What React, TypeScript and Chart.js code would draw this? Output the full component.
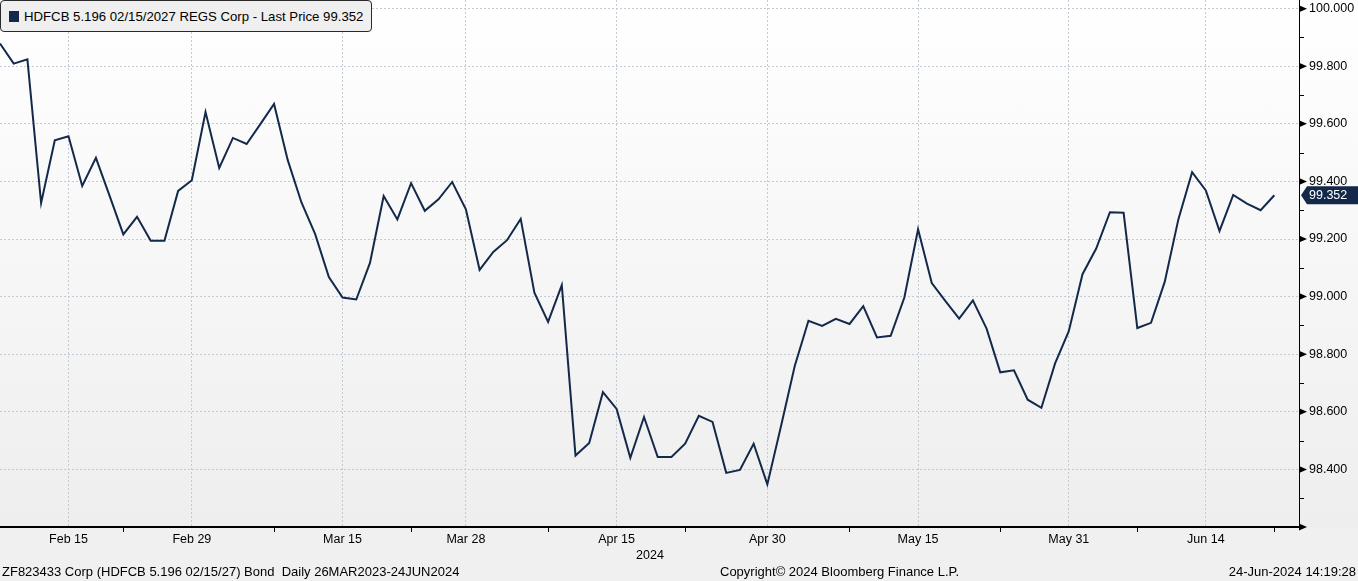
import React, { useEffect, useRef } from 'react';
import { Chart, registerables } from 'chart.js';

Chart.register(...registerables);

// ---- data ----
const dates: string[] = [
  'Feb 8', 'Feb 9', 'Feb 12', 'Feb 13', 'Feb 14', 'Feb 15', 'Feb 16', 'Feb 20', 'Feb 21', 'Feb 22',
  'Feb 23', 'Feb 26', 'Feb 27', 'Feb 28', 'Feb 29', 'Mar 1', 'Mar 4', 'Mar 5', 'Mar 6', 'Mar 7',
  'Mar 8', 'Mar 11', 'Mar 12', 'Mar 13', 'Mar 14', 'Mar 15', 'Mar 18', 'Mar 19', 'Mar 20', 'Mar 21',
  'Mar 22', 'Mar 25', 'Mar 26', 'Mar 27', 'Mar 28', 'Apr 1', 'Apr 2', 'Apr 3', 'Apr 4', 'Apr 5',
  'Apr 8', 'Apr 9', 'Apr 10', 'Apr 11', 'Apr 12', 'Apr 15', 'Apr 16', 'Apr 17', 'Apr 18', 'Apr 19',
  'Apr 22', 'Apr 23', 'Apr 24', 'Apr 25', 'Apr 26', 'Apr 29', 'Apr 30', 'May 1', 'May 2', 'May 3',
  'May 6', 'May 7', 'May 8', 'May 9', 'May 10', 'May 13', 'May 14', 'May 15', 'May 16', 'May 17',
  'May 20', 'May 21', 'May 22', 'May 23', 'May 24', 'May 28', 'May 29', 'May 30', 'May 31', 'Jun 3',
  'Jun 4', 'Jun 5', 'Jun 6', 'Jun 7', 'Jun 10', 'Jun 11', 'Jun 12', 'Jun 13', 'Jun 14', 'Jun 17',
  'Jun 18', 'Jun 20', 'Jun 21', 'Jun 24',
];

const prices: number[] = [
  99.879, 99.809, 99.824, 99.325, 99.543, 99.557, 99.384, 99.482, 99.350, 99.216,
  99.277, 99.194, 99.194, 99.367, 99.404, 99.641, 99.447, 99.551, 99.530, 99.599,
  99.669, 99.474, 99.327, 99.217, 99.068, 98.997, 98.990, 99.117, 99.349, 99.268,
  99.394, 99.298, 99.338, 99.398, 99.303, 99.093, 99.155, 99.196, 99.270, 99.014,
  98.912, 99.040, 98.448, 98.492, 98.668, 98.610, 98.440, 98.582, 98.443, 98.443,
  98.489, 98.586, 98.565, 98.388, 98.398, 98.489, 98.348, 98.551, 98.759, 98.916,
  98.898, 98.923, 98.905, 98.967, 98.858, 98.864, 98.997, 99.234, 99.047, 98.984,
  98.924, 98.987, 98.889, 98.737, 98.744, 98.642, 98.614, 98.768, 98.880, 99.078,
  99.167, 99.293, 99.291, 98.891, 98.909, 99.051, 99.269, 99.432, 99.369, 99.228,
  99.353, 99.323, 99.300, 99.352,
];

const xTickLabels: string[] = ['Feb 15', 'Feb 29', 'Mar 15', 'Mar 28', 'Apr 15', 'Apr 30', 'May 15', 'May 31', 'Jun 14'];
const xMinorTicks: string[] = ['Feb 22', 'Mar 8', 'Mar 22', 'Apr 8', 'Apr 22', 'May 8', 'May 23', 'Jun 7', 'Jun 24'];

const Y_MIN = 98.2;
const Y_MAX = 100.03;
const X_MAX = 94.8;

const seriesName = 'HDFCB 5.196 02/15/2027 REGS Corp';
const yearLabel = '2024';
const footerLeft = 'ZF823433 Corp (HDFCB 5.196 02/15/27) Bond  Daily 26MAR2023-24JUN2024';
const footerCenter = 'Copyright\u00A9 2024 Bloomberg Finance L.P.';
const footerRight = '24-Jun-2024 14:19:28';

// ---- styles ----
const FONT = '"Liberation Sans", Arial, sans-serif';
const NAVY = '#14294a';
const GRID = '#c2cad6';
const W = 1358;
const H = 581;

const lastPrice = prices[prices.length - 1];
const lastPriceText = lastPrice.toFixed(3);

const majorIdx = xTickLabels.map((d) => dates.indexOf(d));
const minorIdx = xMinorTicks.map((d) => dates.indexOf(d));
const labelMap = new Map<number, string>();
xTickLabels.forEach((l, i) => labelMap.set(majorIdx[i], l));

const isMajorY = (v: number) => {
  const k = Math.round(v * 10);
  return k % 2 === 0 && k > 982;
};

const axisMarks = {
  id: 'axisMarks',
  afterDraw(chart: any) {
    const ctx = chart.ctx;
    const ys = chart.scales.y;
    const right = chart.chartArea.right;
    ctx.save();
    ys.ticks.forEach((t: any) => {
      const py = ys.getPixelForValue(t.value);
      const k = Math.round(t.value * 10);
      ctx.fillStyle = '#000';
      ctx.strokeStyle = '#000';
      if (k % 2 === 0) {
        ctx.beginPath();
        ctx.moveTo(right, py - 3.5);
        ctx.lineTo(right + 8, py);
        ctx.lineTo(right, py + 3.5);
        ctx.closePath();
        ctx.fill();
      } else {
        ctx.lineWidth = 1;
        ctx.beginPath();
        ctx.moveTo(right, Math.round(py) + 0.5);
        ctx.lineTo(right + 5, Math.round(py) + 0.5);
        ctx.stroke();
      }
    });
    // last price tag
    const py = ys.getPixelForValue(lastPrice);
    const x0 = right + 2;
    ctx.fillStyle = NAVY;
    ctx.beginPath();
    ctx.moveTo(x0, py);
    ctx.lineTo(x0 + 6, py - 9);
    ctx.lineTo(W, py - 9);
    ctx.lineTo(W, py + 9);
    ctx.lineTo(x0 + 6, py + 9);
    ctx.closePath();
    ctx.fill();
    ctx.fillStyle = '#ffffff';
    ctx.font = `12.5px ${FONT}`;
    ctx.textBaseline = 'middle';
    ctx.textAlign = 'left';
    ctx.fillText(lastPriceText, right + 10, py + 0.5);
    ctx.restore();
  },
};

function ChartCanvas() {
  const ref = useRef<HTMLCanvasElement | null>(null);
  useEffect(() => {
    if (!ref.current) return;
    const chart = new Chart(ref.current, {
      type: 'line',
      data: {
        datasets: [
          {
            label: seriesName,
            data: prices.map((p, i) => ({ x: i, y: p })),
            borderColor: NAVY,
            borderWidth: 2,
            pointRadius: 0,
            tension: 0,
            fill: false,
          },
        ],
      },
      options: {
        animation: false,
        responsive: false,
        maintainAspectRatio: false,
        layout: { padding: 0 },
        plugins: { legend: { display: false }, tooltip: { enabled: false } },
        scales: {
          x: {
            type: 'linear',
            position: 'bottom',
            min: 0,
            max: X_MAX,
            afterBuildTicks: (s: any) => {
              const vals = [...majorIdx, ...minorIdx].sort((a, b) => a - b);
              s.ticks = vals.map((v) => ({ value: v }));
            },
            afterFit: (s: any) => {
              s.height = 54;
              s.paddingLeft = 0;
              s.paddingRight = 0;
            },
            ticks: {
              autoSkip: false,
              maxRotation: 0,
              minRotation: 0,
              padding: 0,
              color: '#000',
              font: { family: FONT, size: 12.5 },
              callback: (v: any) => labelMap.get(v) ?? '',
            },
            grid: {
              color: (c: any) => (c.tick && labelMap.has(c.tick.value) ? GRID : 'rgba(0,0,0,0)'),
              lineWidth: 1,
              drawTicks: true,
              tickLength: 5,
              tickWidth: 1,
              tickColor: (c: any) => (c.tick && labelMap.has(c.tick.value) ? 'rgba(0,0,0,0)' : '#000'),
            },
            border: { display: true, color: '#000', width: 2, dash: [2, 2] },
          },
          y: {
            type: 'linear',
            position: 'right',
            min: Y_MIN,
            max: Y_MAX,
            afterBuildTicks: (s: any) => {
              const t: any[] = [];
              for (let k = 982; k <= 1000; k++) t.push({ value: k / 10 });
              s.ticks = t;
            },
            afterFit: (s: any) => {
              s.width = 59;
              s.paddingTop = 0;
              s.paddingBottom = 0;
            },
            ticks: {
              padding: 2,
              color: '#000',
              font: { family: FONT, size: 12.5 },
              callback: (v: any) => (isMajorY(v) ? Number(v).toFixed(3) : ''),
            },
            grid: {
              color: (c: any) => (c.tick && isMajorY(c.tick.value) ? GRID : 'rgba(0,0,0,0)'),
              lineWidth: 1,
              drawTicks: true,
              tickLength: 8,
              tickColor: 'rgba(0,0,0,0)',
            },
            border: { display: true, color: '#000', width: 1, dash: [2, 2] },
          },
        },
      },
      plugins: [axisMarks],
    } as any);
    return () => chart.destroy();
  }, []);
  return <canvas ref={ref} width={W} height={H} style={{ display: 'block', width: W, height: H }} />;
}

export default function App() {
  const textStyle: React.CSSProperties = {
    position: 'absolute',
    font: `13px ${FONT}`,
    color: '#000',
    whiteSpace: 'pre',
    lineHeight: '16px',
  };
  return (
    <div
      style={{
        position: 'fixed',
        left: 0,
        top: 0,
        width: W,
        height: H,
        overflow: 'hidden',
        background: 'linear-gradient(to bottom, #ffffff 0px, #eeeeee 527px, #f0f0f0 528px, #f0f0f0 581px)',
      }}
    >
      <ChartCanvas />
      <div
        style={{
          position: 'absolute',
          left: 0,
          top: 0,
          width: 372,
          height: 32,
          boxSizing: 'border-box',
          border: '1px solid #2a2a2a',
          borderRadius: 4,
          background: '#efefef',
          display: 'flex',
          alignItems: 'center',
          paddingLeft: 8,
          font: `13.2px ${FONT}`,
          color: '#000',
          whiteSpace: 'nowrap',
        }}
      >
        <span style={{ display: 'inline-block', width: 10, height: 11, background: NAVY, marginRight: 5 }} />
        <span>{`${seriesName} - Last Price ${lastPriceText}`}</span>
      </div>
      <div style={{ ...textStyle, left: 650, top: 547, transform: 'translateX(-50%)', font: `12.5px ${FONT}` }}>{yearLabel}</div>
      <div style={{ ...textStyle, left: 2, top: 564 }}>{footerLeft}</div>
      <div style={{ ...textStyle, left: 720, top: 564 }}>{footerCenter}</div>
      <div style={{ ...textStyle, right: 2, top: 564 }}>{footerRight}</div>
    </div>
  );
}
